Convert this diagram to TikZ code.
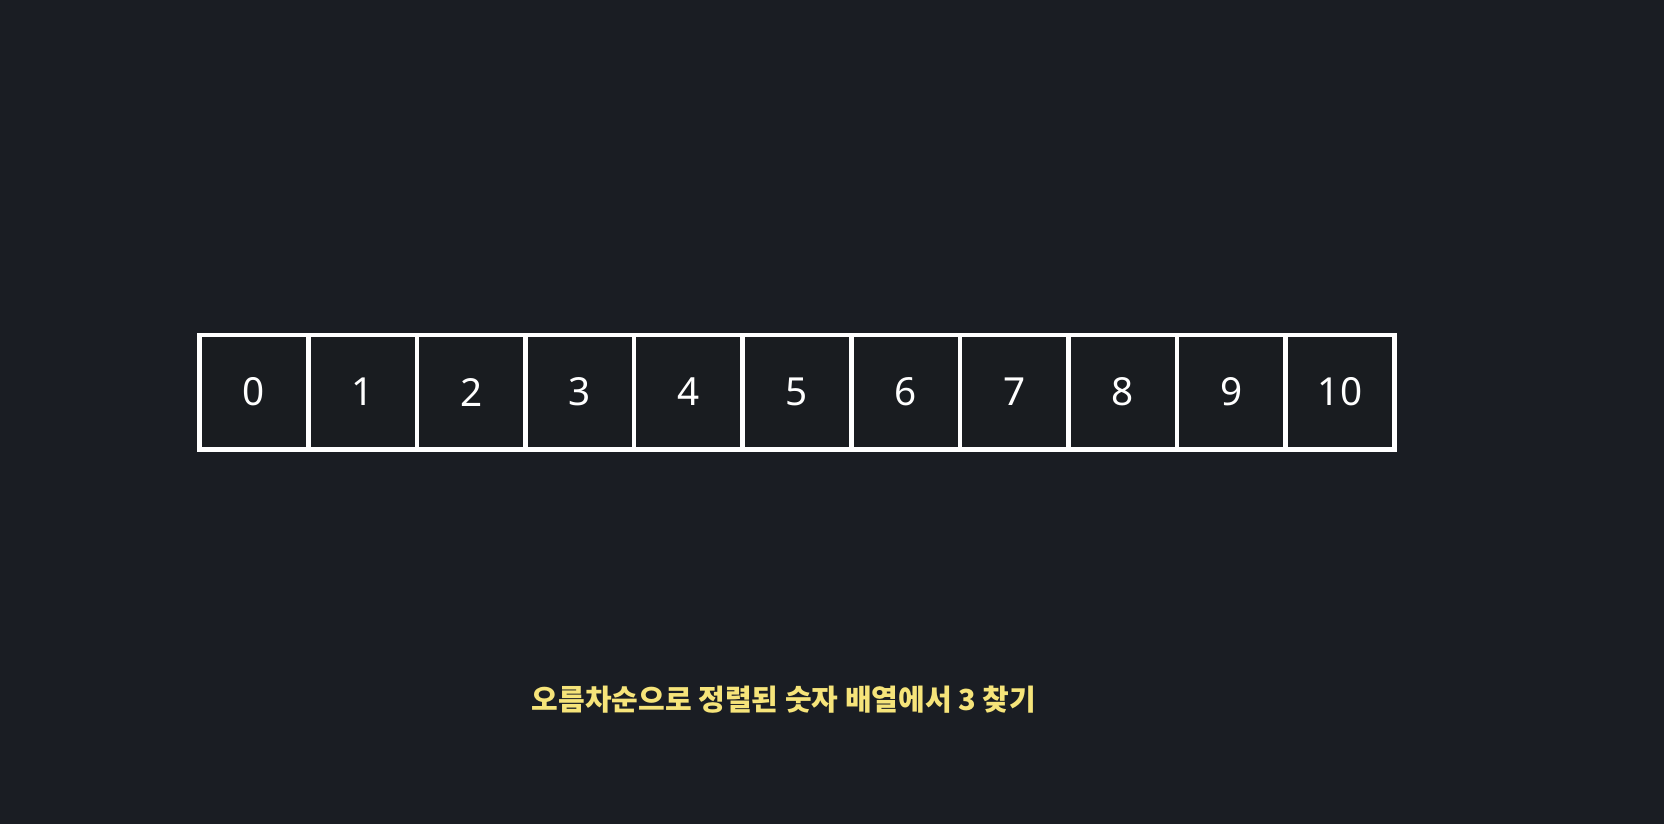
\documentclass[tikz,border=0pt]{standalone}
\usepackage{fontspec}
\setmainfont{Noto Sans}
\newfontfamily\kofont{Noto Sans CJK KR}
\usepackage{tikz}
\definecolor{bgdark}{RGB}{26,29,35}
\definecolor{celldark}{RGB}{25,28,32}
\definecolor{noteyellow}{RGB}{246,228,122}
\tikzset{
    cellbox/.style = {fill=celldark, minimum width=2.08cm, minimum height=2.2cm,
        inner sep=0pt, text=white, font=\fontsize{22}{25}\selectfont}
}

\begin{document}
\begin{tikzpicture}[line cap=round,line join=round,x=1.0cm,y=1.0cm]
\fill [bgdark] (0,0) rectangle (33.28,-16.48);
\useasboundingbox (0,0) rectangle (33.28,-16.48);
\fill [white] (3.94,-6.66) rectangle (27.94,-9.04);

\node [cellbox] (c0) at (5.08,-7.84) {0};
\node [cellbox] (c1) at (7.252,-7.84) {1};
\node [cellbox] (c2) at (9.424,-7.84) {2};
\node [cellbox] (c3) at (11.596,-7.84) {3};
\node [cellbox] (c4) at (13.768,-7.84) {4};
\node [cellbox] (c5) at (15.94,-7.84) {5};
\node [cellbox] (c6) at (18.112,-7.84) {6};
\node [cellbox] (c7) at (20.284,-7.84) {7};
\node [cellbox] (c8) at (22.456,-7.84) {8};
\node [cellbox] (c9) at (24.628,-7.84) {9};
\node [cellbox] (c10) at (26.8,-7.84) {10};

\node [text=noteyellow, font=\kofont\bfseries\fontsize{16.5}{19}\selectfont] (note) at (15.68,-14.0) {오름차순으로 정렬된 숫자 배열에서 3 찾기};
\end{tikzpicture}
\end{document}
